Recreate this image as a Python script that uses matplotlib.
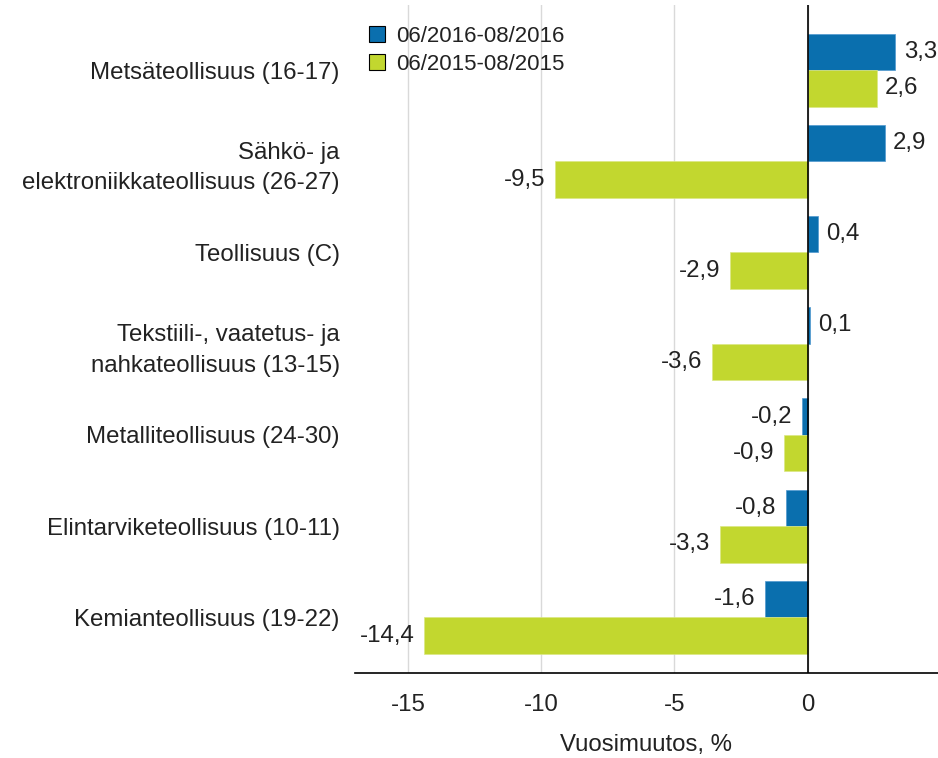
import matplotlib
matplotlib.use("Agg")
import matplotlib.pyplot as plt
import numpy as np
from matplotlib.patches import Patch

categories = ["Metsäteollisuus (16-17)", "Sähkö- ja\nelektroniikkateollisuus (26-27)",
              "Teollisuus (C)", "Tekstiili-, vaatetus- ja\nnahkateollisuus (13-15)",
              "Metalliteollisuus (24-30)", "Elintarviketeollisuus (10-11)",
              "Kemianteollisuus (19-22)"]
series_2016 = [3.3, 2.9, 0.4, 0.1, -0.2, -0.8, -1.6]
series_2015 = [2.6, -9.5, -2.9, -3.6, -0.9, -3.3, -14.4]
series_names = ["06/2016-08/2016", "06/2015-08/2015"]
xticks = [-15, -10, -5, 0]

blue = "#0a6fae"
green = "#c2d72f"

plt.rcParams['font.family'] = ['Liberation Sans', 'DejaVu Sans']
fs = 17.3
txt = "#222222"

fig = plt.figure(figsize=(9.38, 7.58), dpi=100)
ax = fig.add_axes([355/938, 1-673/758, 1-355/938, (673-5)/758])

y = np.arange(len(categories))
h = 0.4
b1 = ax.barh(y - h/2, series_2016, height=h, color=blue, edgecolor="#4f98cf", linewidth=0.5, zorder=3)
b2 = ax.barh(y + h/2, series_2015, height=h, color=green, edgecolor="#dbe884", linewidth=0.5, zorder=3)

def fmt(v):
    return f"{v:.1f}".replace(".", ",")

for bars, vals in ((b1, series_2016), (b2, series_2015)):
    for rect, v in zip(bars, vals):
        yc = rect.get_y() + rect.get_height()/2
        if v >= 0:
            ax.annotate(fmt(v), (v, yc), xytext=(6, 0), textcoords="offset points",
                        ha="left", va="center", fontsize=fs, color=txt)
        else:
            ax.annotate(fmt(v), (v, yc), xytext=(-7, 0), textcoords="offset points",
                        ha="right", va="center", fontsize=fs, color=txt)

ax.set_xlim(-17.0, 4.9)
ax.set_ylim(6.61, -0.713)
ax.set_yticks(y)
ax.set_yticklabels(categories, fontsize=fs, ha="right", multialignment="right",
                   linespacing=1.5)
ax.set_xticks(xticks)
ax.set_xticklabels([str(t) for t in xticks], fontsize=fs)
ax.tick_params(axis="both", length=0, colors=txt)
ax.tick_params(axis="y", pad=11)
ax.tick_params(axis="x", pad=15)
ax.grid(axis="x", color="#d9d9d9", linewidth=1, zorder=0)
ax.axvline(0, color="black", linewidth=1.2, zorder=4)
for s in ("top", "right", "left"):
    ax.spines[s].set_visible(False)
ax.spines["bottom"].set_color("black")
ax.spines["bottom"].set_linewidth(1.2)
ax.set_xlabel("Vuosimuutos, %", fontsize=fs, labelpad=13, color=txt)

handles = [Patch(facecolor=blue, edgecolor="black", linewidth=0.8),
           Patch(facecolor=green, edgecolor="black", linewidth=0.8)]
fig.legend(handles, series_names, loc="upper left", bbox_to_anchor=(369/938, 1-26/758),
           frameon=False, fontsize=16, handlelength=0.7, handleheight=0.7,
           handletextpad=0.5, labelspacing=0.3, borderpad=0, borderaxespad=0,
           labelcolor=txt)

fig.savefig("out.png", dpi=100)
